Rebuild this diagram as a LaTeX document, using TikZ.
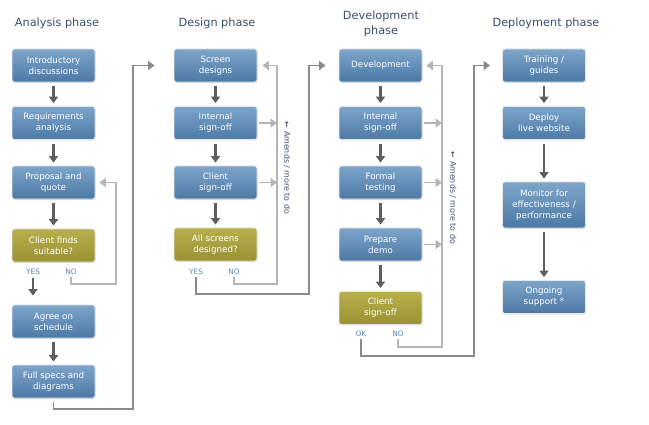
\documentclass[tikz,border=0pt]{standalone}
\usepackage{fontspec}
\setmainfont{DejaVu Sans}
\usetikzlibrary{arrows.meta,shadows}
\definecolor{titlec}{HTML}{3B4D6B}
\definecolor{bluetop}{HTML}{7DA5CA}
\definecolor{bluebot}{HTML}{4C79A5}
\definecolor{yeltop}{HTML}{B8B04C}
\definecolor{yelbot}{HTML}{9A9232}
\definecolor{darkar}{HTML}{5E5E5E}
\definecolor{midar}{HTML}{8A8A8A}
\definecolor{lightar}{HTML}{B4B4B4}
\definecolor{labc}{HTML}{5A84B4}
\definecolor{amendc}{HTML}{3B4D6B}
\tikzset{
  boxbase/.style={rectangle, rounded corners=2.5pt, minimum width=83pt, minimum height=33pt,
    text=white, align=center, draw=black!10, line width=0.8pt,
    font=\fontsize{8.7}{11}\selectfont, inner sep=1pt,
    drop shadow={shadow xshift=0.4pt, shadow yshift=-0.8pt, opacity=0.18, fill=black}},
  bluebox/.style={boxbase, top color=bluetop, bottom color=bluebot},
  yelbox/.style={boxbase, top color=yeltop, bottom color=yelbot},
  phasetitle/.style={text=titlec, font=\fontsize{11.3}{15}\selectfont, align=center},
  yn/.style={text=labc, font=\fontsize{7.4}{8}\selectfont, inner sep=1pt},
  darr/.style={draw=darkar, line width=2.2pt, -{Triangle[width=9pt,length=6.5pt]}, shorten <=4pt, shorten >=3pt},
  midarr/.style={draw=midar, line width=1.6pt, -{Triangle[width=9pt,length=6.5pt]}},
  lightarr/.style={draw=lightar, line width=1.6pt, -{Triangle[width=9pt,length=6.5pt]}},
  amend/.style={text=amendc, font=\fontsize{7.9}{9}\selectfont, rotate=-90, inner sep=0pt},
}
\begin{document}
\begin{tikzpicture}[x=1pt,y=-1pt]
\useasboundingbox (0,0) rectangle (649,425);
% titles
\node[phasetitle] (t1) at (57,23) {Analysis phase};
\node[phasetitle] (t2) at (217,23) {Design phase};
\node[phasetitle] (t3) at (381,24) {Development\\phase};
\node[phasetitle] (t4) at (546,23) {Deployment phase};
% analysis
\node[bluebox] (intro) at (53.5,65.5) {Introductory\\discussions};
\node[bluebox] (req) at (53.5,123) {Requirements\\analysis};
\node[bluebox] (prop) at (53.5,182.5) {Proposal and\\quote};
\node[yelbox] (cfs) at (53.5,245.5) {Client finds\\suitable?};
\node[bluebox] (agree) at (53.5,321.5) {Agree on\\schedule};
\node[bluebox] (full) at (53.5,381.5) {Full specs and\\diagrams};
\node[yn] (yes1) at (33,272) {YES};
\node[yn] (no1) at (71,272) {NO};
% design
\node[bluebox] (screen) at (215.5,65.5) {Screen\\designs};
\node[bluebox] (dint) at (215.5,123) {Internal\\sign-off};
\node[bluebox] (dcli) at (215.5,182.5) {Client\\sign-off};
\node[yelbox] (alls) at (215.5,244.5) {All screens\\designed?};
\node[yn] (yes2) at (196,272) {YES};
\node[yn] (no2) at (234,272) {NO};
% development
\node[bluebox] (dev) at (380.5,65.5) {Development};
\node[bluebox] (vint) at (380.5,123) {Internal\\sign-off};
\node[bluebox] (formal) at (380.5,182.5) {Formal\\testing};
\node[bluebox] (demo) at (380.5,244.5) {Prepare\\demo};
\node[yelbox] (vcli) at (380.5,308) {Client\\sign-off};
\node[yn] (ok3) at (361,334) {OK};
\node[yn] (no3) at (398,334) {NO};
% deployment
\node[bluebox] (train) at (544,65.5) {Training /\\guides};
\node[bluebox] (deploy) at (544,123) {Deploy\\live website};
\node[bluebox, minimum height=46pt] (monitor) at (544,205) {Monitor for\\effectiveness /\\performance};
\node[bluebox] (ongoing) at (544,297) {Ongoing\\support *};
% amends labels
\node[amend] (am1) at (287,168) {\textbf{←} Amends / more to do};
\node[amend] (am2) at (453,198) {\textbf{←} Amends / more to do};
% junction coordinates
\coordinate (c1) at (116,284);
\coordinate (j1) at (133,409);
\coordinate (c2) at (277,284);
\coordinate (j2) at (309,294);
\coordinate (c3) at (442,347);
\coordinate (j3) at (474,356);
% analysis arrows
\draw[darr] (intro) -- (req);
\draw[darr] (req) -- (prop);
\draw[darr] (prop) -- (cfs);
\draw[darr, shorten <=2pt, shorten >=9pt] (yes1.south) -- (yes1.south |- agree.north);
\draw[darr] (agree) -- (full);
\draw[lightarr, shorten <=1pt, shorten >=4pt] (no1.south) |- (c1) |- (prop.east);
\draw[midarr, shorten <=4pt, shorten >=19pt] (full.south) |- (j1) |- (screen.west);
% design arrows
\draw[darr] (screen) -- (dint);
\draw[darr] (dint) -- (dcli);
\draw[darr] (dcli) -- (alls);
\draw[lightarr, shorten <=1pt, shorten >=5pt] (no2.south) |- (c2) |- (screen.east);
\draw[lightarr, shorten <=2pt] (dint.east) -- (dint.east -| c2);
\draw[lightarr, shorten <=2pt] (dcli.east) -- (dcli.east -| c2);
\draw[midarr, shorten <=1pt, shorten >=13pt] (yes2.south) |- (j2) |- (dev.west);
% development arrows
\draw[darr] (dev) -- (vint);
\draw[darr] (vint) -- (formal);
\draw[darr] (formal) -- (demo);
\draw[darr] (demo) -- (vcli);
\draw[lightarr, shorten <=1pt, shorten >=4pt] (no3.south) |- (c3) |- (dev.east);
\draw[lightarr, shorten <=2pt] (vint.east) -- (vint.east -| c3);
\draw[lightarr, shorten <=2pt] (formal.east) -- (formal.east -| c3);
\draw[lightarr, shorten <=2pt] (demo.east) -- (demo.east -| c3);
\draw[midarr, shorten <=1pt, shorten >=12pt] (ok3.south) |- (j3) |- (train.west);
% deployment arrows
\draw[darr] (train) -- (deploy);
\draw[darr] (deploy) -- (monitor);
\draw[darr] (monitor) -- (ongoing);
\end{tikzpicture}
\end{document}
